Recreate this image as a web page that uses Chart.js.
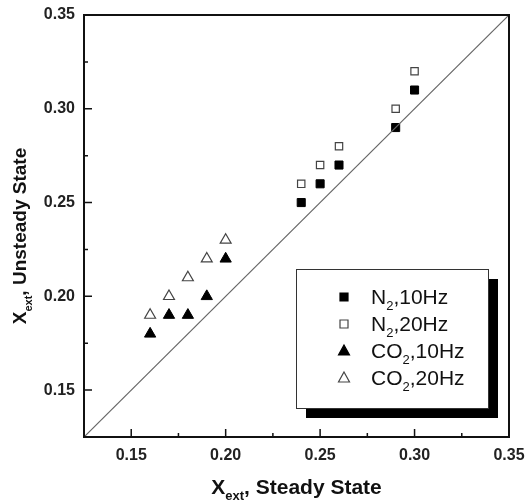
<!DOCTYPE html>
<html>
<head>
<meta charset="utf-8">
<script src="https://cdn.jsdelivr.net/npm/chart.js@4/dist/chart.umd.min.js"></script>
<style>
  html, body { margin: 0; padding: 0; background: #fff; }
  #wrap { width: 526px; height: 504px; }
</style>
</head>
<body>
<div id="wrap"><canvas id="xextChart"></canvas></div>
<script>
// data
const n2_10Hz  = [[0.24, 0.25], [0.25, 0.26], [0.26, 0.27], [0.29, 0.29], [0.30, 0.31]]
const n2_20Hz  = [[0.24, 0.26], [0.25, 0.27], [0.26, 0.28], [0.29, 0.30], [0.30, 0.32]]
const co2_10Hz = [[0.16, 0.18], [0.17, 0.19], [0.18, 0.19], [0.19, 0.20], [0.20, 0.22]]
const co2_20Hz = [[0.16, 0.19], [0.17, 0.20], [0.18, 0.21], [0.19, 0.22], [0.20, 0.23]]
const diagonal = [[0.125, 0.125], [0.35, 0.35]]

const xTicks = [0.15, 0.20, 0.25, 0.30, 0.35]
const yTicks = [0.15, 0.20, 0.25, 0.30, 0.35]
const xMinor = [0.175, 0.225, 0.275, 0.325]
const yMinor = [0.175, 0.225, 0.275, 0.325]
const axisMin = 0.125
const axisMax = 0.35

const legendItems = [
    {label: [['N'], ['2', true], [',10Hz']], style: 'rect', fill: '#000', stroke: '#000'},
    {label: [['N'], ['2', true], [',20Hz']], style: 'rect', fill: '#fff', stroke: '#444'},
    {label: [['CO'], ['2', true], [',10Hz']], style: 'triangle', fill: '#000', stroke: '#000'},
    {label: [['CO'], ['2', true], [',20Hz']], style: 'triangle', fill: '#fff', stroke: '#444'}
]

const toPts = (arr) => arr.map(p => ({x: p[0], y: p[1]}))

const FONT = '"Liberation Sans", Arial, sans-serif'

// draws text made of [text, isSubscript] parts
function richText(ctx, parts, x, y, size, bold, align) {
    const main = (bold ? 'bold ' : '') + size + 'px ' + FONT
    const sub = (bold ? 'bold ' : '') + Math.round(size * 0.6) + 'px ' + FONT
    let total = 0
    parts.forEach(p => {
        ctx.font = p[1] ? sub : main
        total += ctx.measureText(p[0]).width
    })
    let cx = align === 'center' ? x - total / 2 : x
    ctx.textAlign = 'left'
    ctx.textBaseline = 'alphabetic'
    parts.forEach(p => {
        ctx.font = p[1] ? sub : main
        ctx.fillText(p[0], cx, p[1] ? y + size * 0.3 : y)
        cx += ctx.measureText(p[0]).width
    })
}

function marker(ctx, style, x, y, fill, stroke) {
    ctx.save()
    ctx.fillStyle = fill
    ctx.strokeStyle = stroke
    ctx.lineWidth = 1.2
    ctx.beginPath()
    if (style === 'rect') {
        ctx.rect(x - 4, y - 4, 8, 8)
    } else {
        ctx.moveTo(x, y - 6)
        ctx.lineTo(x + 5.5, y + 4)
        ctx.lineTo(x - 5.5, y + 4)
        ctx.closePath()
    }
    ctx.fill()
    ctx.stroke()
    ctx.restore()
}

const framePlugin = {
    id: 'frame',
    afterDraw(chart) {
        const ctx = chart.ctx
        const a = chart.chartArea
        const xs = chart.scales.x
        const ys = chart.scales.y
        ctx.save()
        ctx.strokeStyle = '#111'
        ctx.lineWidth = 1.5

        // inward ticks
        ctx.beginPath()
        xTicks.forEach(v => { const px = xs.getPixelForValue(v); ctx.moveTo(px, a.bottom); ctx.lineTo(px, a.bottom - 8) })
        xMinor.forEach(v => { const px = xs.getPixelForValue(v); ctx.moveTo(px, a.bottom); ctx.lineTo(px, a.bottom - 4) })
        yTicks.forEach(v => { const py = ys.getPixelForValue(v); ctx.moveTo(a.left, py); ctx.lineTo(a.left + 8, py) })
        yMinor.forEach(v => { const py = ys.getPixelForValue(v); ctx.moveTo(a.left, py); ctx.lineTo(a.left + 4, py) })
        ctx.stroke()

        ctx.lineWidth = 2
        ctx.strokeRect(a.left, a.top, a.right - a.left, a.bottom - a.top)

        // axis titles
        ctx.fillStyle = '#111'
        richText(ctx, [['X'], ['ext', true], [', Steady State']], (a.left + a.right) / 2, 494, 21, true, 'center')
        ctx.save()
        ctx.translate(26, (a.top + a.bottom) / 2 + 10)
        ctx.rotate(-Math.PI / 2)
        richText(ctx, [['X'], ['ext', true], [', Unsteady State']], 0, 0, 19, true, 'center')
        ctx.restore()

        // legend box with shadow
        const bx = 296, by = 269, bw = 192, bh = 139
        ctx.fillStyle = '#000'
        ctx.fillRect(bx + 10, by + 10, bw, bh)
        ctx.fillStyle = '#fff'
        ctx.fillRect(bx, by, bw, bh)
        ctx.lineWidth = 1
        ctx.strokeStyle = '#333'
        ctx.strokeRect(bx + 0.5, by + 0.5, bw, bh)

        const rowsY = [297, 324, 351, 378]
        legendItems.forEach((item, i) => {
            marker(ctx, item.style, 344, rowsY[i], item.fill, item.stroke)
            ctx.fillStyle = '#111'
            richText(ctx, item.label, 371, rowsY[i] + 7, 21, false, 'left')
        })
        ctx.restore()
    }
}

function noOverflow(s) {
    s.paddingLeft = 0
    s.paddingRight = 0
    s.paddingTop = 0
    s.paddingBottom = 0
}

const ctxChart = document.getElementById('xextChart')

new Chart(ctxChart, {
    type: 'scatter',
    data: {
        datasets: [{
            label: 'y = x',
            data: toPts(diagonal),
            showLine: true,
            borderColor: '#666',
            borderWidth: 1.2,
            pointRadius: 0
        }, {
            label: 'N2,10Hz',
            data: toPts(n2_10Hz),
            pointStyle: 'rect',
            pointRadius: 5.7,
            backgroundColor: '#000',
            borderColor: '#000',
            borderWidth: 1
        }, {
            label: 'N2,20Hz',
            data: toPts(n2_20Hz),
            pointStyle: 'rect',
            pointRadius: 5.2,
            backgroundColor: '#fff',
            borderColor: '#444',
            borderWidth: 1.2
        }, {
            label: 'CO2,10Hz',
            data: toPts(co2_10Hz),
            pointStyle: 'triangle',
            pointRadius: 6.5,
            backgroundColor: '#000',
            borderColor: '#000',
            borderWidth: 1
        }, {
            label: 'CO2,20Hz',
            data: toPts(co2_20Hz),
            pointStyle: 'triangle',
            pointRadius: 6.3,
            backgroundColor: '#fff',
            borderColor: '#444',
            borderWidth: 1.2
        }]
    },
    options: {
        responsive: true,
        maintainAspectRatio: false,
        animation: false,
        layout: {
            padding: {top: 15, right: 17, left: 0, bottom: 0}
        },
        plugins: {
            legend: {display: false},
            tooltip: {enabled: false}
        },
        scales: {
            x: {
                type: 'linear',
                min: axisMin,
                max: axisMax,
                afterBuildTicks: (s) => { s.ticks = xTicks.map(v => ({value: v})) },
                afterFit: (s) => { s.height = 67; noOverflow(s) },
                grid: {display: false, drawTicks: false},
                border: {display: false},
                ticks: {
                    padding: 9,
                    color: '#222',
                    font: {family: FONT, size: 16, weight: 'bold'},
                    callback: (v) => v.toFixed(2)
                }
            },
            y: {
                type: 'linear',
                min: axisMin,
                max: axisMax,
                afterBuildTicks: (s) => { s.ticks = yTicks.map(v => ({value: v})) },
                afterFit: (s) => { s.width = 84; noOverflow(s) },
                grid: {display: false, drawTicks: false},
                border: {display: false},
                ticks: {
                    padding: 9,
                    color: '#222',
                    font: {family: FONT, size: 16, weight: 'bold'},
                    callback: (v) => v.toFixed(2)
                }
            }
        }
    },
    plugins: [framePlugin]
})
</script>
</body>
</html>
